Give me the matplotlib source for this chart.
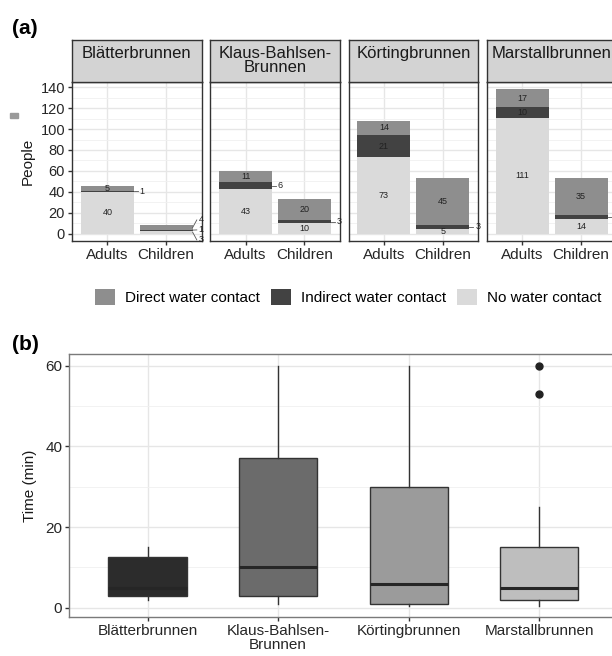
import matplotlib
matplotlib.use('Agg')
import matplotlib.pyplot as plt
from matplotlib.patches import Patch, Rectangle
import numpy as np

plt.rcParams['font.family'] = ['Liberation Sans', 'DejaVu Sans']

# ---------------- data ----------------
fountains = ['Blätterbrunnen', 'Klaus-Bahlsen-\nBrunnen', 'Körtingbrunnen', 'Marstallbrunnen']
groups = ['Adults', 'Children']
contact_labels = ['Direct water contact', 'Indirect water contact', 'No water contact']
no_contact = [[40, 3], [43, 10], [73, 5], [111, 14]]
indirect_contact = [[1, 1], [6, 3], [21, 3], [10, 4]]
direct_contact = [[5, 4], [11, 20], [14, 45], [17, 35]]
people_ticks = [0, 20, 40, 60, 80, 100, 120, 140]

box_whislo = [2, 1, 0.5, 0.5]
box_q1 = [3, 3, 1, 2]
box_med = [5, 10, 6, 5]
box_q3 = [12.5, 37, 30, 15]
box_whishi = [15, 60, 60, 25]
box_fliers = [[], [], [], [53, 60]]
time_ticks = [0, 20, 40, 60]

# ---------------- style ----------------
col_no, col_ind, col_dir = '#dadada', '#424242', '#8e8e8e'
box_cols = ['#2c2c2c', '#6b6b6b', '#9b9b9b', '#bebebe']
grid_col = '#e6e6e6'
text_col = '#262626'

W, H = 612, 656
fig = plt.figure(figsize=(W / 100, H / 100), dpi=100)


def fx(x):
    return x / W


def fy(y):
    return 1 - y / H


# ---------------- panel (a) ----------------
fig.text(fx(12), fy(28), '(a)', fontsize=15, fontweight='bold', va='center', ha='left')
fig.patches.append(Rectangle((fx(10), fy(118)), 8 / W, 5 / H, transform=fig.transFigure,
                             color='#9a9a9a', zorder=5))

facet_w = 129.5
strip_top, plot_top, plot_bot = 40, 82, 241
y_lo, y_hi = -6.9, 144.9
x = np.arange(1, len(groups) + 1)
bw = 0.9

for i, name in enumerate(fountains):
    left = 72 + i * 138.3
    ax = fig.add_axes([fx(left), fy(plot_bot), facet_w / W, (plot_bot - plot_top) / H])
    sax = fig.add_axes([fx(left), fy(plot_top), facet_w / W, (plot_top - strip_top) / H])
    sax.set_facecolor('#d3d3d3')
    sax.set_xticks([]); sax.set_yticks([])
    for s in sax.spines.values():
        s.set_color('#333333'); s.set_linewidth(1.0)
    sax.text(0.5, 0.86, name, ha='center', va='top', fontsize=12, color='#1a1a1a',
             linespacing=0.95, transform=sax.transAxes)

    nc = np.array(no_contact[i]); ic = np.array(indirect_contact[i]); dc = np.array(direct_contact[i])
    ax.bar(x, nc, width=bw, color=col_no, zorder=2)
    ax.bar(x, ic, width=bw, bottom=nc, color=col_ind, zorder=2)
    ax.bar(x, dc, width=bw, bottom=nc + ic, color=col_dir, zorder=2)

    ax.set_xlim(0.4, 2.6)
    ax.set_ylim(y_lo, y_hi)
    ax.set_yticks(people_ticks)
    ax.set_yticks(np.arange(10, 140, 20), minor=True)
    ax.set_xticks(x)
    ax.set_xticklabels(groups, fontsize=11, color=text_col)
    ax.grid(True, which='major', color=grid_col, linewidth=1.0, zorder=0)
    ax.grid(True, which='minor', axis='y', color='#f0f0f0', linewidth=0.6, zorder=0)
    ax.set_axisbelow(True)
    ax.tick_params(axis='both', which='major', length=3, width=1, color='#333333', pad=2)
    ax.tick_params(axis='y', which='minor', length=0)
    if i == 0:
        ax.set_yticklabels([str(t) for t in people_ticks], fontsize=10.5, color=text_col)
        ax.set_ylabel('People', fontsize=11, color='#1a1a1a', labelpad=4)
    else:
        ax.tick_params(axis='y', which='major', length=0, labelleft=False)
    for s in ax.spines.values():
        s.set_color('#333333'); s.set_linewidth(1.0)

    # segment labels
    for j in range(len(groups)):
        segs = [(nc[j], 0, False), (ic[j], nc[j], True), (dc[j], nc[j] + ic[j], False)]
        outside = []
        for val, bot, is_ind in segs:
            mid = bot + val / 2
            if val < 5 or (is_ind and val < 8):
                outside.append((mid, val))
            else:
                ax.text(x[j], mid, str(val), ha='center', va='center', fontsize=6.5,
                        color='#222222', zorder=3)
        if outside:
            mids = [m for m, _ in outside]
            ys = list(mids)
            gap = 9.5
            for k in range(1, len(ys)):
                ys[k] = max(ys[k], ys[k - 1] + gap)
            if len(ys) > 1:
                shift = np.mean(mids) - np.mean(ys)
                ys = [yy + shift for yy in ys]
            lx = x[j] + bw / 2 + 0.1
            for (m, val), yy in zip(outside, ys):
                ax.plot([x[j] + bw / 2, lx - 0.03], [m, yy], color='#555555', lw=0.6,
                        zorder=3, clip_on=False)
                ax.text(lx, yy, str(val), ha='left', va='center', fontsize=6.5,
                        color='#222222', zorder=3, clip_on=False)

handles = [Patch(facecolor=c, edgecolor='none') for c in (col_dir, col_ind, col_no)]
fig.legend(handles, contact_labels, loc='center', bbox_to_anchor=(fx(348.5), fy(297)),
           ncol=3, frameon=False, fontsize=11, handlelength=1.31, handleheight=1.24,
           handletextpad=0.65, columnspacing=0.72, borderaxespad=0, borderpad=0)

# ---------------- panel (b) ----------------
fig.text(fx(12), fy(345), '(b)', fontsize=15, fontweight='bold', va='center', ha='left')
bx = fig.add_axes([fx(69.3), fy(617.3), (617.5 - 69.3) / W, (617.3 - 354) / H])
stats = []
for k in range(len(fountains)):
    stats.append(dict(whislo=box_whislo[k], q1=box_q1[k], med=box_med[k], q3=box_q3[k],
                      whishi=box_whishi[k], fliers=box_fliers[k]))
pos = np.arange(1, len(fountains) + 1)
res = bx.bxp(stats, positions=pos, widths=0.6, patch_artist=True, showcaps=False,
             boxprops=dict(edgecolor='#333333', linewidth=1.0),
             medianprops=dict(color='#262626', linewidth=2.2),
             whiskerprops=dict(color='#333333', linewidth=1.0),
             flierprops=dict(marker='o', markerfacecolor='#222222', markeredgecolor='#222222',
                             markersize=5))
for patch, c in zip(res['boxes'], box_cols):
    patch.set_facecolor(c)
    patch.set_zorder(2)
bx.set_xlim(0.4, 4.6)
bx.set_ylim(-2.38, 62.9)
bx.set_yticks(time_ticks)
bx.set_yticks([10, 30, 50], minor=True)
bx.set_xticks(pos)
bx.set_xticklabels(fountains, fontsize=11, color=text_col, linespacing=1.0)
bx.set_yticklabels([str(t) for t in time_ticks], fontsize=11, color=text_col)
bx.set_ylabel('Time (min)', fontsize=11, color='#1a1a1a', labelpad=6)
bx.grid(True, which='major', color=grid_col, linewidth=1.0, zorder=0)
bx.grid(True, which='minor', axis='y', color='#f0f0f0', linewidth=0.6, zorder=0)
bx.set_axisbelow(True)
bx.tick_params(axis='both', which='major', length=3, width=1, color='#333333', pad=2)
bx.tick_params(axis='y', which='minor', length=0)
for s in bx.spines.values():
    s.set_color('#7a7a7a'); s.set_linewidth(1.0)

fig.savefig('out.png', dpi=100)
